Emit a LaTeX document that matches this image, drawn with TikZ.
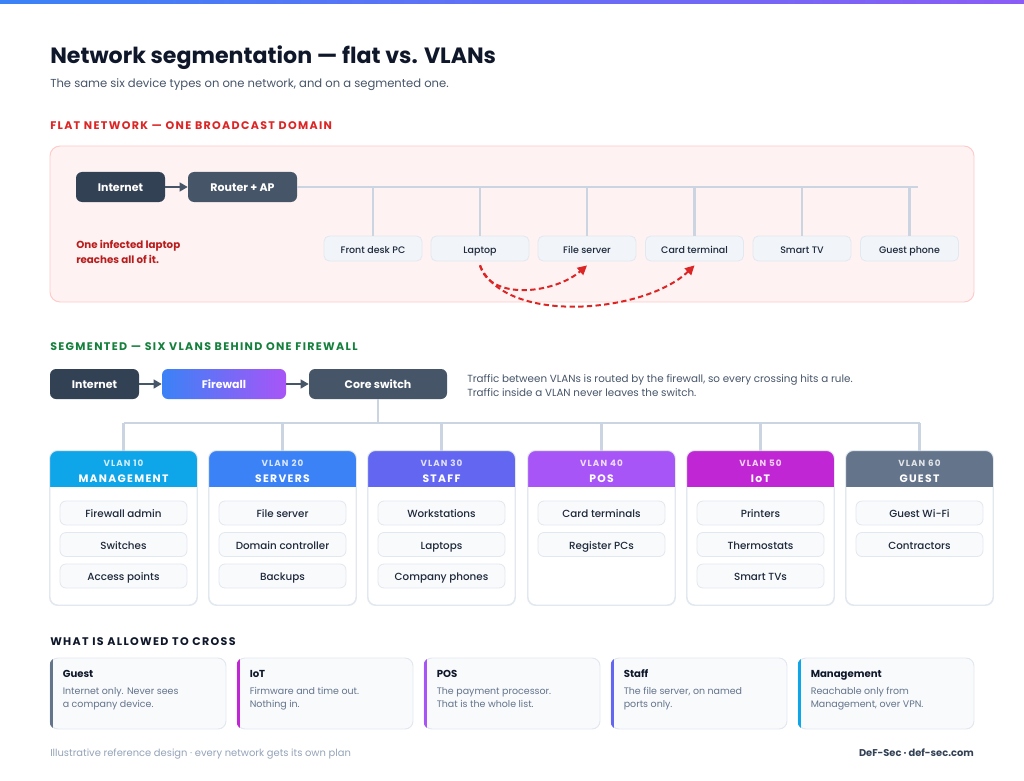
\documentclass[tikz,border=0pt]{standalone}
\usepackage{fontspec}
\setmainfont{Poppins}
\newfontfamily\spaced[LetterSpace=12]{Poppins}
\newfontfamily\medium{Poppins Medium}
\usetikzlibrary{arrows.meta,calc}
\definecolor{s900}{HTML}{0F172A}
\definecolor{s800}{HTML}{1E293B}
\definecolor{s700}{HTML}{334155}
\definecolor{s600}{HTML}{475569}
\definecolor{s500}{HTML}{64748B}
\definecolor{s400}{HTML}{94A3B8}
\definecolor{s300}{HTML}{CBD5E1}
\definecolor{s200}{HTML}{E2E8F0}
\definecolor{s100}{HTML}{F1F5F9}
\definecolor{s50}{HTML}{F8FAFC}
\definecolor{r50}{HTML}{FEF2F2}
\definecolor{r200}{HTML}{FECACA}
\definecolor{r600}{HTML}{DC2626}
\definecolor{r700}{HTML}{B91C1C}
\definecolor{g700}{HTML}{15803D}
\definecolor{csky}{HTML}{0EA5E9}
\definecolor{cblue}{HTML}{3B82F6}
\definecolor{cindigo}{HTML}{6366F1}
\definecolor{cpurple}{HTML}{A855F7}
\definecolor{cfuchsia}{HTML}{C026D3}
\definecolor{cviolet}{HTML}{8B5CF6}
\tikzset{
  wh/.style 2 args={minimum width=#1*0.75pt, minimum height=#2*0.75pt},
  fixh/.style={text height=0.86em, text depth=0.14em},
  darkbox/.style={fill=s700, rounded corners=4.5pt, inner sep=0pt, fixh, text=white, font=\fontsize{8.25}{10}\selectfont\bfseries},
  midbox/.style={fill=s600, rounded corners=4.5pt, inner sep=0pt, fixh, text=white, font=\fontsize{8.25}{10}\selectfont\bfseries},
  gradbox/.style={left color=cblue, right color=cpurple, rounded corners=4.5pt, inner sep=0pt, fixh, text=white, font=\fontsize{8.25}{10}\selectfont\bfseries},
  arr/.style={draw=s600, line width=1.5pt, -{Triangle[length=6pt,width=6.5pt]}},
  bus/.style={draw=s300, line width=1.6pt},
  devbox/.style={fill=s100, draw=s200, line width=0.6pt, rounded corners=4pt, inner sep=0pt, fixh, text=s800, font=\fontsize{7.1}{9}\selectfont\medium, wh={98}{25}},
  itembox/.style={fill=s50, draw=s200, line width=0.6pt, rounded corners=4.5pt, inner sep=0pt, fixh, text=s800, font=\fontsize{7.75}{9}\selectfont\medium, wh={127}{24}},
  card/.style={fill=white, draw=s200, line width=0.7pt, rounded corners=6pt, inner sep=0pt, wh={147}{154}},
  crosscard/.style={fill=s50, draw=s200, line width=0.7pt, rounded corners=6pt, inner sep=0pt, wh={176}{71}},
  redarr/.style={draw=r600, line width=1.5pt, dash pattern=on 4pt off 2.5pt, -{Triangle[length=7pt,width=7pt]}},
  seclabel/.style={anchor=base west, inner sep=0pt, font=\fontsize{8.3}{10}\selectfont\spaced\bfseries},
  vsmall/.style={inner sep=0pt, text=white, opacity=0.8, font=\fontsize{6.6}{8}\selectfont\spaced\bfseries, anchor=base},
  vname/.style={inner sep=0pt, text=white, font=\fontsize{8.1}{10}\selectfont\spaced\bfseries, anchor=base},
  ctitle/.style={inner sep=0pt, anchor=base west, text=s900, font=\fontsize{7.6}{9}\selectfont\bfseries},
  cbody/.style={inner sep=0pt, anchor=base west, align=left, text=s500, font=\fontsize{7.1}{9.5pt}\selectfont},
}
\begin{document}
\begin{tikzpicture}[x=0.75pt,y=-0.75pt]
\useasboundingbox (0,0) rectangle (1024,781);
\fill[white] (0,0) rectangle (1024,781);
\fill[left color=cblue, right color=cviolet] (0,0) rectangle (1024,4);

% header
\node[anchor=base west, inner sep=0pt, text=s900, font=\fontsize{16.6}{20}\selectfont\bfseries] (title) at (50,64) {Network segmentation — flat vs. VLANs};
\node[anchor=base west, inner sep=0pt, text=s600, font=\fontsize{8.7}{11}\selectfont] (sub) at (50,87.5) {The same six device types on one network, and on a segmented one.};

% flat network
\node[seclabel, text=r600] (flatlbl) at (50,130) {FLAT NETWORK — ONE BROADCAST DOMAIN};
\node[fill=r50, draw=r200, line width=0.7pt, rounded corners=7.5pt, inner sep=0pt, wh={924}{156}] (flatpanel) at (512,224) {};
\node[darkbox, wh={89}{30}] (inet1) at (120.5,187) {Internet};
\node[midbox, wh={109}{30}] (router) at (242.5,187) {Router + AP};
\draw[arr] (inet1) -- (router);
\coordinate (busend) at (918,187);
\draw[bus] (router.east) -- (busend);
\node[devbox] (d1) at (373,248.5) {Front desk PC};
\node[devbox] (d2) at (480,248.5) {Laptop};
\node[devbox] (d3) at (587,248.5) {File server};
\node[devbox] (d4) at (694.5,248.5) {Card terminal};
\node[devbox] (d5) at (802,248.5) {Smart TV};
\node[devbox] (d6) at (909.5,248.5) {Guest phone};
\foreach \d in {d1,d2,d3,d4,d5,d6} { \draw[bus] (\d.north) -- (\d.north |- router.east); }
\node[anchor=base west, inner sep=0pt, align=left, text=r700, font=\fontsize{7.7}{11.25pt}\selectfont\bfseries] (infected) at (76,263) {One infected laptop\\reaches all of it.};
\draw[redarr] ([yshift=-3pt]d2.south) .. controls +(10,36) and +(-32,28) .. ([yshift=-3pt]d3.south);
\draw[redarr] ([yshift=-3pt]d2.south) .. controls +(25,60) and +(-50,48) .. ([yshift=-3pt]d4.south);

% segmented
\node[seclabel, text=g700] (seglbl) at (50,350) {SEGMENTED — SIX VLANS BEHIND ONE FIREWALL};
\node[darkbox, wh={89}{30}] (inet2) at (94.5,384) {Internet};
\node[gradbox, wh={124}{30}] (fw) at (224,384) {Firewall};
\node[midbox, wh={138}{30}] (core) at (378,384) {Core switch};
\draw[arr] (inet2) -- (fw);
\draw[arr] (fw) -- (core);
\node[anchor=base west, inner sep=0pt, align=left, text=s600, font=\fontsize{7.75}{10.8pt}\selectfont] (note) at (467,396.7) {Traffic between VLANs is routed by the firewall, so every crossing hits a rule.\\Traffic inside a VLAN never leaves the switch.};

\coordinate (tj) at (378,423);
\draw[bus] (core.south) -- (tj);

% VLAN cards
\foreach \n/\cx/\col/\num/\name in {v10/123.5/csky/10/MANAGEMENT, v20/282.5/cblue/20/SERVERS, v30/441.5/cindigo/30/STAFF, v40/601.5/cpurple/40/POS, v50/760.5/cfuchsia/50/IoT, v60/919.5/s500/60/GUEST} {
  \node[card] (\n) at (\cx,528) {};
  \begin{scope}
    \clip[rounded corners=6pt] (\n.north west) rectangle (\n.south east);
    \fill[\col] (\n.north west) rectangle ([yshift=-36*0.75pt]\n.north east);
  \end{scope}
  \draw[s200, line width=0.7pt, rounded corners=6pt] (\n.north west) rectangle (\n.south east);
  \node[vsmall] (\n-num) at (\cx,466.7) {VLAN \num};
  \node[vname] (\n-name) at (\cx,482.3) {\name};
}
\draw[bus] (v10.north |- tj) -- (v60.north |- tj);
\foreach \n in {v10,v20,v30,v40,v50,v60} { \draw[bus] (\n.north) -- (\n.north |- tj); }

\node[itembox] (i11) at (123.5,513) {Firewall admin};
\node[itembox] (i12) at (123.5,544.5) {Switches};
\node[itembox] (i13) at (123.5,576) {Access points};
\node[itembox] (i21) at (282.5,513) {File server};
\node[itembox] (i22) at (282.5,544.5) {Domain controller};
\node[itembox] (i23) at (282.5,576) {Backups};
\node[itembox] (i31) at (441.5,513) {Workstations};
\node[itembox] (i32) at (441.5,544.5) {Laptops};
\node[itembox] (i33) at (441.5,576) {Company phones};
\node[itembox] (i41) at (601.5,513) {Card terminals};
\node[itembox] (i42) at (601.5,544.5) {Register PCs};
\node[itembox] (i51) at (760.5,513) {Printers};
\node[itembox] (i52) at (760.5,544.5) {Thermostats};
\node[itembox] (i53) at (760.5,576) {Smart TVs};
\node[itembox] (i61) at (919.5,513) {Guest Wi-Fi};
\node[itembox] (i62) at (919.5,544.5) {Contractors};

% what is allowed
\node[seclabel, text=s900] (crosslbl) at (50,645.7) {WHAT IS ALLOWED TO CROSS};
\foreach \n/\cx/\col/\ttl/\bodytxt in {c1/138/s500/Guest/{Internet only. Never sees\\a company device.}, c2/325/cfuchsia/IoT/{Firmware and time out.\\Nothing in.}, c3/512/cpurple/POS/{The payment processor.\\That is the whole list.}, c4/699/cindigo/Staff/{The file server, on named\\ports only.}, c5/886/csky/Management/{Reachable only from\\Management, over VPN.}} {
  \node[crosscard] (\n) at (\cx,693.5) {};
  \begin{scope}
    \clip[rounded corners=6pt] (\n.north west) rectangle (\n.south east);
    \fill[\col] (\n.north west) rectangle ([xshift=3*0.75pt]\n.south west);
  \end{scope}
  \node[ctitle] (\n-t) at ($(\n.north west)+(13,20.3)$) {\ttl};
  \node[cbody] (\n-b) at ($(\n.north west)+(13,49.7)$) {\bodytxt};
}

% footer
\node[anchor=base west, inner sep=0pt, text=s400, font=\fontsize{7.45}{9}\selectfont] (foot1) at (50,756.7) {Illustrative reference design · every network gets its own plan};
\node[anchor=base east, inner sep=0pt, text=s700, font=\fontsize{7.4}{9}\selectfont\bfseries] (foot2) at (974,756.7) {DeF-Sec · def-sec.com};
\end{tikzpicture}
\end{document}
